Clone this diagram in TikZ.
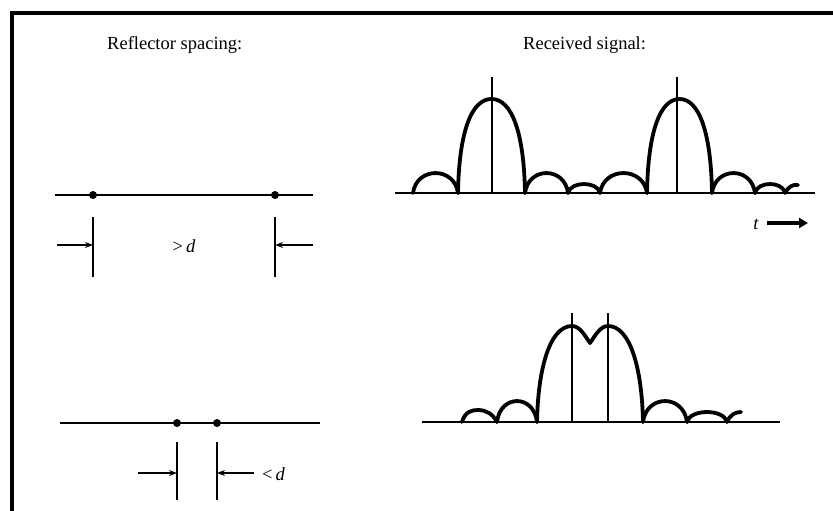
\documentclass[tikz,border=0pt]{standalone}
\usepackage{fontspec}
\setmainfont{Liberation Serif}
\usetikzlibrary{arrows.meta}
\newcommand{\siglobe}[4]{\draw[sig] (#1,#4) .. controls ({#1+0.08*(#2-#1)},{#4-1.33*#3}) and ({#2-0.08*(#2-#1)},{#4-1.33*#3}) .. (#2,#4);}
\newcommand{\mainlobe}[4]{\draw[sig] (#1,#4) .. controls ({#1+1},{#4-0.65*(#4-#3)}) and ({#1+0.2*(#2-#1)},#3) .. ({(#1+#2)/2},#3) .. controls ({#2-0.2*(#2-#1)},#3) and ({#2-1},{#4-0.65*(#4-#3)}) .. (#2,#4);}
\tikzset{
  sig/.style={line width=3.8pt, line cap=round, line join=round},
  axisline/.style={line width=1.8pt},
  stem/.style={line width=1.5pt},
  refl/.style={circle, fill=black, inner sep=0pt, minimum size=8pt},
  dimline/.style={line width=1.8pt},
  dimarrow/.style={line width=1.5pt, -{Stealth[length=8pt,width=6pt]}},
  lbl/.style={inner sep=0pt, font=\fontsize{18.5}{22}\selectfont},
  frame/.style={line width=4pt}
}
\begin{document}
\begin{tikzpicture}[x=1pt,y=-1pt]
\useasboundingbox (0,0) rectangle (833,511);
% frame
\draw[frame] (12,511) -- (12,13) -- (833,13);
% titles
\node[lbl, anchor=west] (t1) at (107,45) {Reflector spacing:};
\node[lbl, anchor=west] (t2) at (523,45) {Received signal:};
% ---------- top left: reflector spacing > d
\coordinate (l1a) at (55,195);
\coordinate (l1b) at (313,195);
\draw[axisline] (l1a) -- (l1b);
\node[refl] (r1) at (93,195) {};
\node[refl] (r2) at (275,195) {};
\coordinate (v1t) at (93,217); \coordinate (v1b) at (93,277);
\coordinate (v2t) at (275,217); \coordinate (v2b) at (275,277);
\draw[dimline] (v1t) -- (v1b);
\draw[dimline] (v2t) -- (v2b);
\coordinate (a1s) at (57,245); \coordinate (a1e) at (93,245);
\coordinate (a2s) at (313,245); \coordinate (a2e) at (275,245);
\draw[dimarrow] (a1s) -- (a1e);
\draw[dimarrow] (a2s) -- (a2e);
\node[lbl] (gd) at (184,246) {>\,\textit{d}};
% ---------- top right: received signal, well separated
\coordinate (b1a) at (395,193);
\coordinate (b1b) at (815,193);
\draw[axisline] (b1a) -- (b1b);
\siglobe{413}{458}{20}{193}
\mainlobe{458}{525}{99}{193}
\siglobe{525}{568}{20}{193}
\siglobe{568}{600}{9}{193}
\siglobe{600}{647}{20}{193}
\mainlobe{647}{712}{99}{193}
\siglobe{712}{755}{20}{193}
\siglobe{755}{785}{9}{193}
\draw[sig] (785,193) .. controls (788,187) and (793,184) .. (798,185);
\coordinate (s1t) at (492,77); \coordinate (s1b) at (492,193);
\coordinate (s2t) at (677,77); \coordinate (s2b) at (677,193);
\draw[stem] (s1t) -- (s1b);
\draw[stem] (s2t) -- (s2b);
% t arrow
\node[lbl] (tl) at (756,224) {\textit{t}};
\coordinate (ta) at (767,223); \coordinate (tb) at (808,223);
\draw[line width=3.8pt, -{Triangle[length=9pt,width=10pt]}] (ta) -- (tb);
% ---------- bottom left: reflector spacing < d
\coordinate (l2a) at (60,423);
\coordinate (l2b) at (320,423);
\draw[axisline] (l2a) -- (l2b);
\node[refl] (r3) at (177,423) {};
\node[refl] (r4) at (217,423) {};
\coordinate (v3t) at (177,442); \coordinate (v3b) at (177,500);
\coordinate (v4t) at (217,442); \coordinate (v4b) at (217,500);
\draw[dimline] (v3t) -- (v3b);
\draw[dimline] (v4t) -- (v4b);
\coordinate (a3s) at (138,473); \coordinate (a3e) at (177,473);
\coordinate (a4s) at (254,473); \coordinate (a4e) at (217,473);
\draw[dimarrow] (a3s) -- (a3e);
\draw[dimarrow] (a4s) -- (a4e);
\node[lbl, anchor=west] (ld) at (262,474) {<\,\textit{d}};
% ---------- bottom right: received signal, overlapping
\coordinate (b2a) at (422,422);
\coordinate (b2b) at (780,422);
\draw[axisline] (b2a) -- (b2b);
\draw[sig] (462,422) .. controls (465,412) and (471,410) .. (478,410) .. controls (486,410) and (493,414) .. (497,422);
\siglobe{497}{537}{21}{422}
\draw[sig] (537,422) .. controls (538,368) and (550,326) .. (572,326) .. controls (580,326) and (585,336) .. (590,343) .. controls (595,336) and (600,326) .. (608,326) .. controls (630,326) and (642,368) .. (643,422);
\siglobe{643}{687}{21}{422}
\siglobe{687}{727}{10}{422}
\draw[sig] (727,422) .. controls (730,415) and (735,412) .. (741,412);
\coordinate (s3t) at (572,313); \coordinate (s3b) at (572,422);
\coordinate (s4t) at (608,313); \coordinate (s4b) at (608,422);
\draw[stem] (s3t) -- (s3b);
\draw[stem] (s4t) -- (s4b);
\end{tikzpicture}
\end{document}
